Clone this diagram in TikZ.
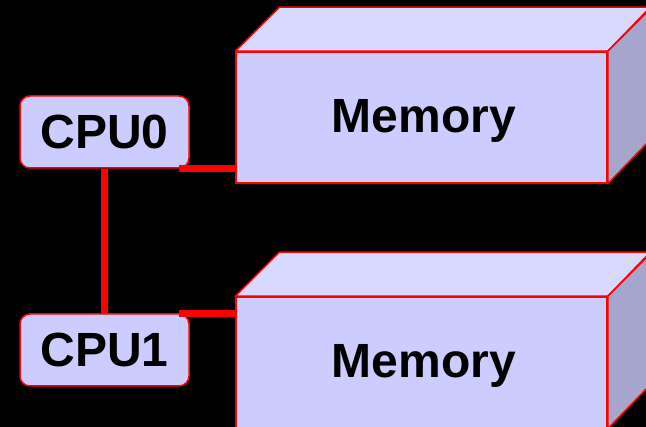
\documentclass[tikz,border=0pt]{standalone}
\usepackage{fontspec}
\setmainfont{Liberation Sans}
\definecolor{frontc}{HTML}{CCCCFF}
\definecolor{topc}{HTML}{D9D9FF}
\definecolor{sidec}{HTML}{A6A6CC}
\definecolor{edgec}{HTML}{FF0000}
\begin{document}
\begin{tikzpicture}[x=1pt,y=-1pt,
  cpubox/.style={draw=edgec,line width=1.5pt,fill=frontc,rounded corners=10pt,
    minimum width=169pt,minimum height=72pt,inner sep=0pt,
    font=\fontsize{48}{56}\selectfont\bfseries},
  memface/.style={draw=edgec,line width=1.5pt,fill=frontc,
    minimum width=371pt,minimum height=131pt,inner sep=0pt,text depth=4pt,
    font=\fontsize{48}{56}\selectfont\bfseries},
  topface/.style={draw=edgec,line width=1.5pt,fill=topc,line join=round},
  sideface/.style={draw=edgec,line width=1.5pt,fill=sidec,line join=round},
  link/.style={draw=edgec,line width=7pt}]
\fill[black] (0,0) rectangle (646,427);
\useasboundingbox (0,0) rectangle (646,427);
\clip (0,0) rectangle (646,427);
% memory blocks
\node[memface] (mem0) at (421.5,117.5) {\hspace*{5pt}Memory};
\draw[topface] (mem0.north west) -- ++(44,-44) -- ++(371,0) -- (mem0.north east) -- cycle;
\draw[sideface] (mem0.north east) -- ++(44,-44) -- ++(0,131) -- (mem0.south east) -- cycle;
\node[memface] (mem1) at (421.5,362.5) {\hspace*{5pt}Memory};
\draw[topface] (mem1.north west) -- ++(44,-44) -- ++(371,0) -- (mem1.north east) -- cycle;
\draw[sideface] (mem1.north east) -- ++(44,-44) -- ++(0,131) -- (mem1.south east) -- cycle;
% CPUs
\node[cpubox] (cpu0) at (104.5,132) {CPU0};
\node[cpubox] (cpu1) at (104.5,350) {CPU1};
% links
\path[link] (cpu0.south) -- (cpu1.north);
\coordinate (c0r) at ([xshift=-11pt]cpu0.south east);
\coordinate (c1r) at ([xshift=-11pt]cpu1.north east);
\path[link] (c0r) -- (mem0.west |- c0r);
\path[link] (c1r) -- (mem1.west |- c1r);
\end{tikzpicture}
\end{document}
